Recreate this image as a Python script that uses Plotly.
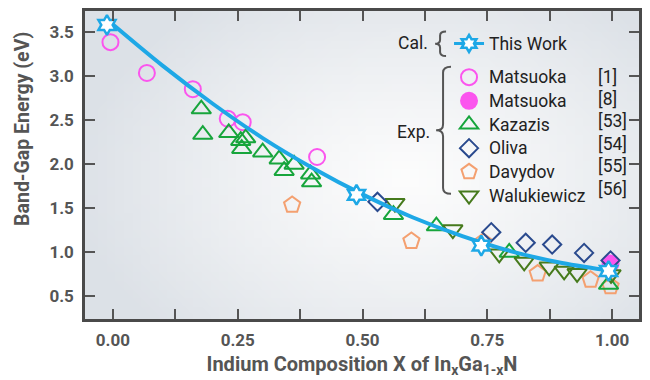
import plotly.graph_objects as go
import zlib, struct, base64

# ---------------- data ----------------
curve_x = [0.0, 0.1, 0.2, 0.3, 0.4, 0.5, 0.6, 0.7, 0.8, 0.9, 1.0]
curve_y = [3.59, 3.12, 2.69, 2.30, 1.96, 1.66, 1.40, 1.185, 1.01, 0.88, 0.79]

this_work_x = [-0.012, 0.488, 0.738, 0.993]
this_work_y = [3.585, 1.655, 1.078, 0.79]

matsuoka1_x = [-0.005, 0.068, 0.160, 0.230, 0.260, 0.409]
matsuoka1_y = [3.39, 3.04, 2.855, 2.52, 2.48, 2.085]

matsuoka8_x = [0.997]
matsuoka8_y = [0.875]

kazazis_x = [0.177, 0.180, 0.232, 0.256, 0.266, 0.258, 0.300, 0.333, 0.343, 0.363,
             0.396, 0.398, 0.562, 0.648, 0.794, 0.993]
kazazis_y = [2.63, 2.34, 2.36, 2.27, 2.30, 2.18, 2.14, 2.06, 1.93, 2.00,
             1.89, 1.80, 1.43, 1.30, 1.00, 0.635]

oliva_x = [0.530, 0.758, 0.827, 0.880, 0.944, 0.997]
oliva_y = [1.575, 1.23, 1.11, 1.09, 0.995, 0.91]

davydov_x = [0.359, 0.598, 0.742, 0.851, 0.957, 0.997]
davydov_y = [1.54, 1.13, 1.12, 0.76, 0.69, 0.615]

waluk_x = [0.565, 0.681, 0.774, 0.824, 0.874, 0.904, 0.930, 0.998]
waluk_y = [1.56, 1.26, 0.985, 0.893, 0.837, 0.79, 0.763, 0.75]

x_tickvals = [0.0, 0.125, 0.25, 0.375, 0.5, 0.625, 0.75, 0.875, 1.0]
x_ticktext = ["0.00", "", "0.25", "", "0.50", "", "0.75", "", "1.00"]
y_tickvals = [0.5, 1.0, 1.5, 2.0, 2.5, 3.0, 3.5]
y_ticktext = ["0.5", "1.0", "1.5", "2.0", "2.5", "3.0", "3.5"]

legend_refs = ["[1]", "[8]", "[53]", "[54]", "[55]", "[56]"]

# ---------------- styling ----------------
FONT = "Roboto, Liberation Sans, sans-serif"
TXT = 17.5
BLUE = "#1ea8e6"
PINK = "#fb55ee"
GREEN = "#17a53c"
NAVY = "#2a4a8e"
PEACH = "#f4a070"
OLIVE = "#467a1c"

# background gradient image (light grey edges, whiter centre)
def make_png(w, h, fn):
    raw = b""
    for j in range(h):
        row = bytearray([0])
        for i in range(w):
            row += bytes(fn(i / (w - 1), j / (h - 1)))
        raw += bytes(row)
    def chunk(t, d):
        c = struct.pack(">I", len(d)) + t + d
        return c + struct.pack(">I", zlib.crc32(t + d) & 0xffffffff)
    png = b"\x89PNG\r\n\x1a\n"
    png += chunk(b"IHDR", struct.pack(">IIBBBBB", w, h, 8, 2, 0, 0, 0))
    png += chunk(b"IDAT", zlib.compress(raw, 9))
    png += chunk(b"IEND", b"")
    return "data:image/png;base64," + base64.b64encode(png).decode()

def grad(u, v):
    dx = (u - 0.58) / 0.62
    dy = (v - 0.55) / 0.75
    t = min(1.0, (dx * dx + dy * dy) ** 0.5)
    t = t ** 1.2
    edge = (220, 225, 231)
    cen = (253, 253, 253)
    return [int(cen[k] * (1 - t) + edge[k] * t) for k in range(3)]

bg = make_png(64, 36, grad)

fig = go.Figure()

def lab(s):
    return f"<span style='font-size:{TXT}px'>{s}</span>"

def pts(x, y, name, sym, color, size, fill=None, rank=1, legend=True, lw=2):
    fig.add_trace(go.Scatter(
        x=x, y=y, mode="markers", name=lab(name), legendrank=rank, showlegend=legend,
        legendgroup="exp",
        marker=dict(symbol=sym, size=size, color=fill if fill else "rgba(0,0,0,0)",
                    line=dict(color=color, width=lw)),
        hoverinfo="x+y"))

pts(matsuoka1_x, matsuoka1_y, "Matsuoka", "circle", PINK, 16, rank=2)
pts(matsuoka8_x, matsuoka8_y, "Matsuoka", "circle", PINK, 16, fill=PINK, rank=3)
pts(davydov_x, davydov_y, "Davydov", "pentagon", PEACH, 17, rank=6)
pts(kazazis_x, kazazis_y, "Kazazis", "triangle-up", GREEN, 17, rank=4)
pts(waluk_x, waluk_y, "Walukiewicz", "triangle-down", OLIVE, 17, rank=7)
pts(oliva_x, oliva_y, "Oliva", "diamond", NAVY, 14, rank=5)

fig.add_trace(go.Scatter(x=curve_x, y=curve_y, mode="lines", line=dict(color=BLUE, width=4, shape="spline"),
                         showlegend=False, hoverinfo="skip"))
fig.add_trace(go.Scatter(x=this_work_x, y=this_work_y, mode="markers", showlegend=False,
                         marker=dict(symbol="hexagram", size=15, color="white", line=dict(color=BLUE, width=2.5))))
fig.add_trace(go.Scatter(x=[None], y=[None], mode="lines+markers", name=lab("This Work"), legendrank=1,
                         legendgroup="cal",
                         line=dict(color=BLUE, width=3),
                         marker=dict(symbol="hexagram", size=13, color="white", line=dict(color=BLUE, width=2.5))))

# ---------------- layout ----------------
L, R, T, B = 85, 8, 10, 55
PW, PH = 650 - L - R, 380 - T - B

def px(xp):
    return (xp - L) / PW

def py(yp):
    return (380 - B - yp) / PH

def brace(xr, xs, xt, yt, yb):
    ym = (yt + yb) / 2
    r = min(6, (yb - yt) / 6)
    pts_ = [
        f"M {px(xr)},{py(yt)}",
        f"Q {px(xs)},{py(yt)} {px(xs)},{py(yt + r)}",
        f"L {px(xs)},{py(ym - r)}",
        f"Q {px(xs)},{py(ym)} {px(xt)},{py(ym)}",
        f"Q {px(xs)},{py(ym)} {px(xs)},{py(ym + r)}",
        f"L {px(xs)},{py(yb - r)}",
        f"Q {px(xs)},{py(yb)} {px(xr)},{py(yb)}",
    ]
    return dict(type="path", xref="paper", yref="paper", path=" ".join(pts_),
                line=dict(color="#555555", width=2))

shapes = [brace(448, 442, 437, 31, 56), brace(453, 445, 438, 67, 197)]

annotations = [
    dict(x=px(432), y=py(43), xref="paper", yref="paper", text="Cal.", showarrow=False,
         xanchor="right", yanchor="middle", font=dict(family=FONT, size=TXT, color="#222")),
    dict(x=px(434), y=py(134), xref="paper", yref="paper", text="Exp.", showarrow=False,
         xanchor="right", yanchor="middle", font=dict(family=FONT, size=TXT, color="#222")),
    dict(x=px(22), y=py(29), xref="paper", yref="paper", text="Band-Gap Energy (eV)",
         textangle=-90, showarrow=False, xanchor="center", yanchor="top",
         font=dict(family=FONT, size=19.5, color="#555", weight="bold")),
]
ref_y = [77, 100, 123, 146, 169, 192]
for t, yy in zip(legend_refs, ref_y):
    annotations.append(dict(x=px(599), y=py(yy), xref="paper", yref="paper", text=t, showarrow=False,
                            xanchor="left", yanchor="middle",
                            font=dict(family=FONT, size=TXT, color="#222")))

axis_common = dict(showline=True, linecolor="#4a4a4a", linewidth=2.5, mirror="ticks",
                   ticks="inside", ticklen=10, tickwidth=1.5, tickcolor="#555",
                   showgrid=False, zeroline=False,
                   tickfont=dict(family=FONT, size=17, color="#555", weight="bold"))

fig.update_layout(
    width=650, height=380,
    margin=dict(l=L, r=R, t=T, b=B),
    paper_bgcolor="white", plot_bgcolor="#f2f4f6",
    images=[dict(source=bg, xref="paper", yref="paper", x=0, y=1, sizex=1, sizey=1,
                 sizing="stretch", layer="below", xanchor="left", yanchor="top")],
    xaxis=dict(range=[-0.056, 1.054], tickvals=x_tickvals, ticktext=x_ticktext,
               ticklabelstandoff=4,
               title=dict(text="Indium Composition X of In<sub>x</sub>Ga<sub>1-x</sub>N",
                          font=dict(family=FONT, size=20, color="#555", weight="bold"), standoff=8),
               **axis_common),
    yaxis=dict(range=[0.244, 3.744], tickvals=y_tickvals, ticktext=y_ticktext,
               ticklabelstandoff=5,
               **axis_common),
    showlegend=True,
    legend=dict(x=px(451), y=py(26), xanchor="left", yanchor="top",
                bgcolor="rgba(0,0,0,0)", traceorder="grouped", tracegroupgap=10,
                font=dict(family=FONT, size=15.9, color="#222"), itemwidth=30),
    shapes=shapes, annotations=annotations,
)

fig.write_html("out.html")
